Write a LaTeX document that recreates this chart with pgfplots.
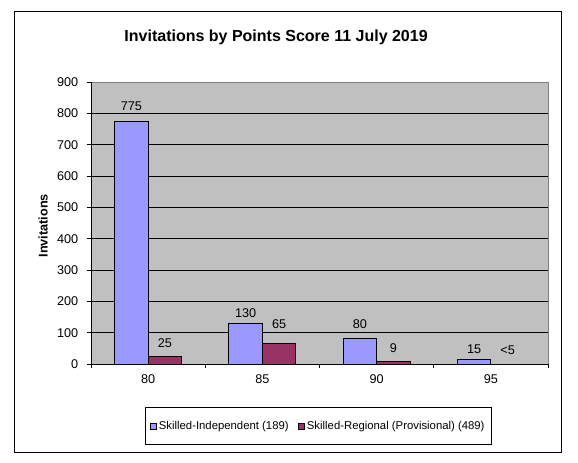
\documentclass[border=0pt]{standalone}
\usepackage{fontspec}
\setmainfont{Liberation Sans}
\usepackage{pgfplots}
\usepackage{pgfplotstable}
\pgfplotsset{compat=1.18}

\definecolor{indblue}{HTML}{9999FF}
\definecolor{regmaroon}{HTML}{993366}
\definecolor{plotgray}{HTML}{C0C0C0}
\definecolor{framegray}{HTML}{808080}

% invitations per points score (x = 80, 85, 90, 95); off = label height above bar, px
\pgfplotstableread{
x y lab off
0 775 775 15
1 130 130 10
2 80 80 15
3 15 15 10
}\independent
\pgfplotstableread{
x y lab off
0 25 25 13
1 65 65 20
2 9 9 13
3 0 <5 14
}\regional

\begin{document}
\begin{tikzpicture}[x=0.75pt,y=0.75pt]
\useasboundingbox (0,0) rectangle (578,462);
\fill[white] (0,0) rectangle (578,462);
\draw[black,line width=0.75pt] (14,10) rectangle (561,451);
\begin{axis}[
  at={(68.25pt,73.5pt)}, anchor=south west,
  scale only axis, width=342.75pt, height=211.5pt,
  xmin=-0.5, xmax=3.5, ymin=0, ymax=900,
  ybar=0pt, bar width=25.1pt,
  axis x line*=bottom, axis y line*=left,
  axis background/.style={fill=plotgray, draw=framegray, line width=0.75pt},
  axis line style={black, line width=0.75pt},
  tick align=outside, major tick length=3pt,
  tick style={black, line width=0.75pt},
  xtick={-0.5,0.5,1.5,2.5,3.5}, xticklabels={},
  extra x ticks={0,1,2,3}, extra x tick labels={80,85,90,95},
  extra x tick style={tick style={draw=none}},
  ytick={0,100,...,900},
  extra y ticks={100,200,...,800}, extra y tick labels={},
  extra y tick style={ymajorgrids=true},
  major grid style={black, line width=0.75pt},
  ticklabel style={font=\fontsize{9.5}{11}\selectfont},
  /pgf/number format/assume math mode=true,
  xticklabel style={yshift=-1.5pt},
  yticklabel style={xshift=-3pt},
  title={Invitations by Points Score 11 July 2019},
  title style={font=\bfseries\fontsize{12}{14}\selectfont, at={(rel axis cs:0.405,1)}, anchor=center, yshift=27.75pt},
  ylabel={Invitations},
  every axis y label/.style={at={(rel axis cs:0,0.49)}, xshift=-36pt, rotate=90, anchor=center, font=\bfseries\fontsize{9.5}{11}\selectfont},
  nodes near coords, point meta=explicit symbolic,
  visualization depends on={\thisrow{off} \as \myoff},
  every node near coord/.append style={font=\fontsize{9.5}{11}\selectfont, anchor=center, inner sep=0pt, yshift={0.75pt*\myoff}},
  legend columns=2,
  legend style={at={(0.498,-0.22)}, anchor=center, draw=black, line width=0.75pt, fill=white,
    font=\fontsize{8.5}{10}\selectfont, inner xsep=3pt, inner ysep=8pt,
    /tikz/every even column/.append style={column sep=5pt}},
]
\addplot[fill=indblue, draw=black, line width=0.75pt,
  legend image code/.code={\draw[fill=indblue, draw=black, line width=0.5pt] (0pt,-2.1pt) rectangle (4.2pt,2.1pt);}]
  table[x=x, y=y, meta=lab] {\independent};
\addplot[fill=regmaroon, draw=black, line width=0.75pt,
  legend image code/.code={\draw[fill=regmaroon, draw=black, line width=0.5pt] (0pt,-2.1pt) rectangle (4.2pt,2.1pt);}]
  table[x=x, y=y, meta=lab] {\regional};
\legend{Skilled-Independent (189), Skilled-Regional (Provisional) (489)}
\end{axis}
\end{tikzpicture}
\end{document}
